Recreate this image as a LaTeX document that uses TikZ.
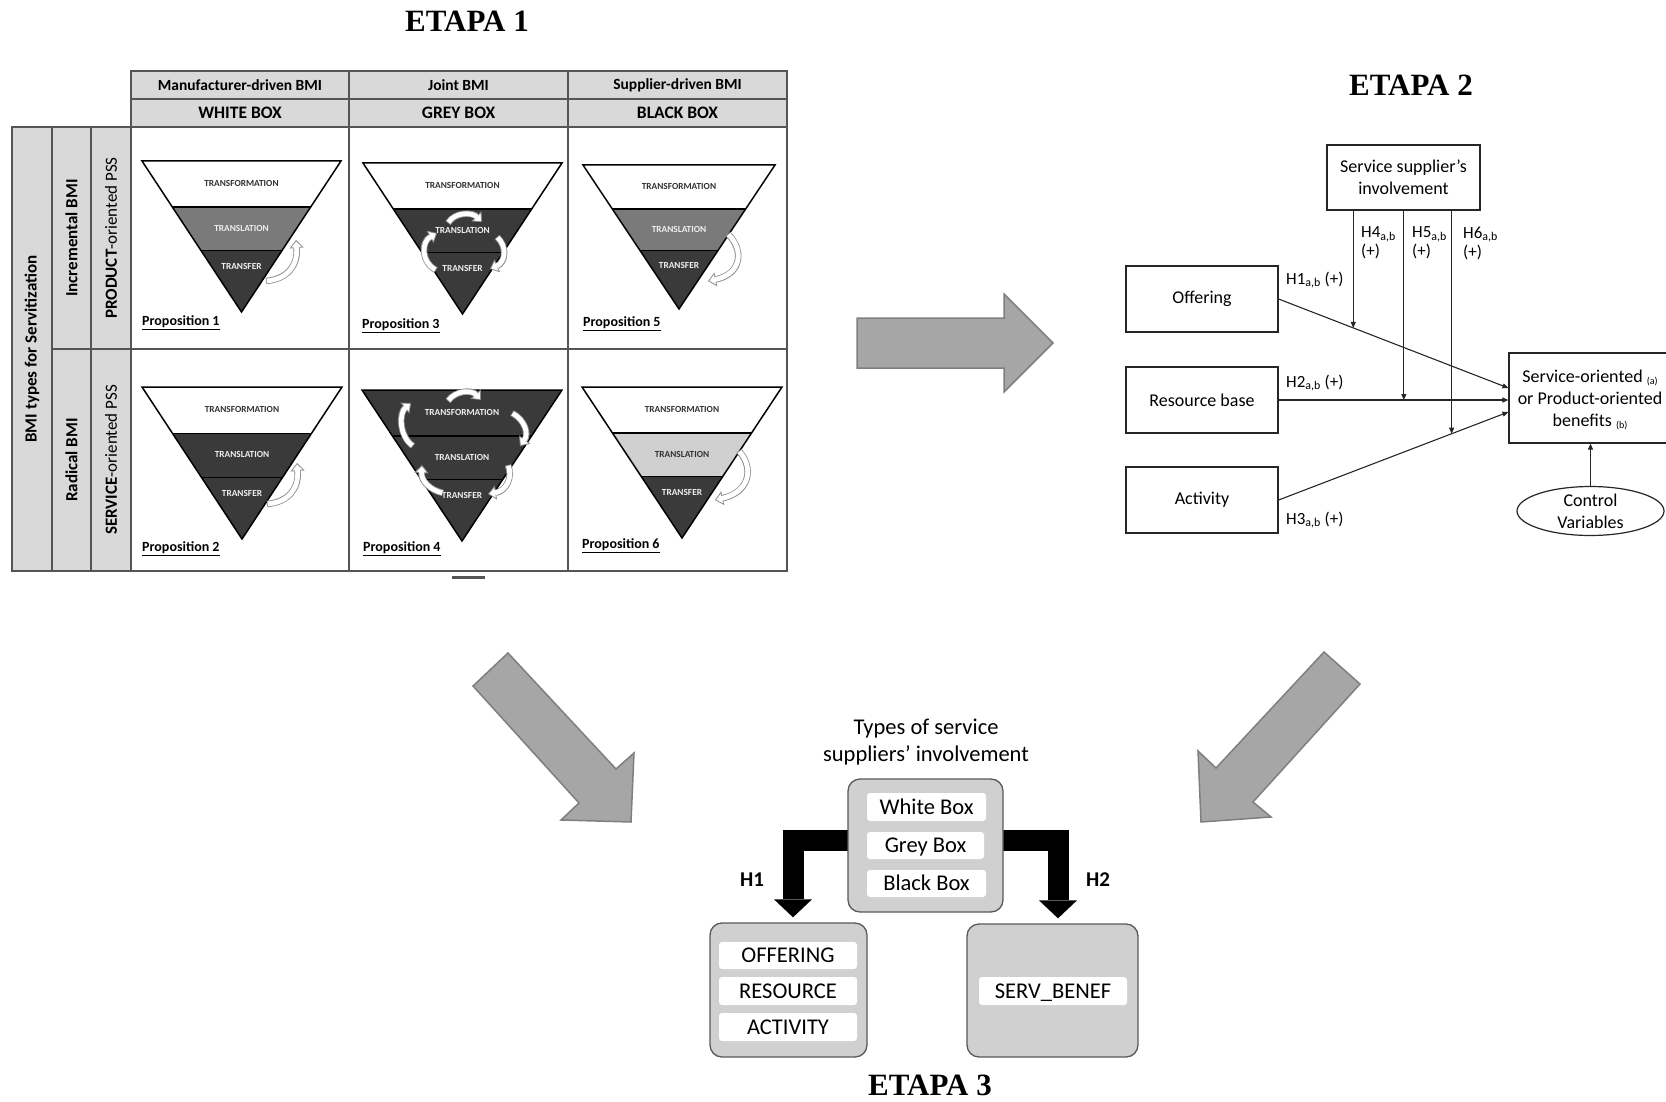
\documentclass[tikz,border=0pt]{standalone}
\usepackage{fontspec}
\setmainfont{Carlito}
\newfontfamily\stagefont{Liberation Serif}
\usetikzlibrary{arrows.meta,calc,shapes.geometric}

\definecolor{tblline}{HTML}{555555}
\definecolor{hdrgray}{HTML}{D9D9D9}
\definecolor{fmid}{HTML}{7A7A7A}
\definecolor{fdark}{HTML}{3A3A3A}
\definecolor{flight}{HTML}{D0D0D0}
\definecolor{ftxtdark}{HTML}{333333}
\definecolor{ftxtlight}{HTML}{EEEEEE}
\definecolor{swirlgray}{HTML}{8C8C8C}
\definecolor{bigfill}{HTML}{A6A6A6}
\definecolor{bigedge}{HTML}{7F7F7F}
\definecolor{grpfill}{HTML}{D0D0D0}
\definecolor{grpedge}{HTML}{595959}
\definecolor{lineink}{HTML}{262626}

\pgfdeclarelayer{back}
\pgfsetlayers{back,main}

\newcommand\sub[1]{{\fontsize{10}{10}\selectfont\raisebox{-2.5pt}{#1}}}

% inverted funnel with three bands: name, x, y, width, height,
% top fill, top text colour, middle fill, middle text colour
\newcommand\funnel[9]{%
  \pgfmathsetmacro\fLx{#2}%
  \pgfmathsetmacro\fRx{#2+#4}%
  \pgfmathsetmacro\fCx{#2+#4/2}%
  \pgfmathsetmacro\fAy{#3+#5}%
  \pgfmathsetmacro\fYa{#3+0.305*#5}%
  \pgfmathsetmacro\fYb{#3+0.595*#5}%
  \pgfmathsetmacro\fLa{#2+0.1525*#4}%
  \pgfmathsetmacro\fRa{#2+#4-0.1525*#4}%
  \pgfmathsetmacro\fLb{#2+0.2975*#4}%
  \pgfmathsetmacro\fRb{#2+#4-0.2975*#4}%
  \pgfmathsetmacro\fTa{#3+0.148*#5}%
  \pgfmathsetmacro\fTb{#3+0.445*#5}%
  \pgfmathsetmacro\fTc{#3+0.70*#5}%
  \fill[#6] (\fLx,#3) -- (\fRx,#3) -- (\fRa,\fYa) -- (\fLa,\fYa) -- cycle;
  \fill[#8] (\fLa,\fYa) -- (\fRa,\fYa) -- (\fRb,\fYb) -- (\fLb,\fYb) -- cycle;
  \fill[fdark] (\fLb,\fYb) -- (\fRb,\fYb) -- (\fCx,\fAy) -- cycle;
  \draw[line width=1.2pt] (\fLa,\fYa) -- (\fRa,\fYa) (\fLb,\fYb) -- (\fRb,\fYb);
  \draw[line width=1.5pt, line join=miter] (\fLx,#3) -- (\fRx,#3) -- (\fCx,\fAy) -- cycle;
  \node[flabel, text=#7] (#1-a) at (\fCx,\fTa) {TRANSFORMATION};
  \node[flabel, text=#9] (#1-b) at (\fCx,\fTb) {TRANSLATION};
  \node[flabel, text=ftxtlight] (#1-c) at (\fCx,\fTc) {TRANSFER};
}

% hollow curved arrow: start, control 1, control 2, end
\newcommand\swirl[4]{%
  \draw[swirlout] (#1) .. controls (#2) and (#3) .. (#4);
  \draw[swirlin] (#1) .. controls (#2) and (#3) .. (#4);
}

\tikzset{
  grid/.style={draw=tblline, line width=1.2pt, inner sep=0pt},
  hcellA/.style={grid, fill=hdrgray, font=\bfseries\fontsize{15.5}{18}\selectfont},
  hcellB/.style={grid, fill=hdrgray, font=\bfseries\fontsize{17.5}{20}\selectfont},
  scell/.style={grid, fill=hdrgray, rotate=90, font=\fontsize{17}{20}\selectfont},
  bcell/.style={grid, fill=white},
  flabel/.style={inner sep=0pt, font=\bfseries\fontsize{9.3}{10}\selectfont},
  prop/.style={inner sep=0pt, anchor=west, font=\bfseries\fontsize{14}{16}\selectfont},
  swirlout/.style={draw=swirlgray, line width=6.5pt,
    -{Triangle[width=14pt,length=8pt,fill=white,line width=0.8pt]}},
  swirlin/.style={draw=white, line width=4.8pt, shorten <=0.8pt, shorten >=7pt},
  stage/.style={inner sep=0pt, font=\stagefont\bfseries\fontsize{31}{33}\selectfont},
  bigarrow/.style={fill=bigfill, draw=bigedge, line width=1.5pt, line join=miter},
  sbox/.style={draw=lineink, line width=1.2pt, fill=white, inner sep=0pt,
    align=center, font=\fontsize{18}{22}\selectfont},
  link/.style={draw=lineink, line width=1.1pt, -{Triangle[length=6pt,width=5pt]}},
  hlab/.style={inner sep=0pt, anchor=west, align=left, font=\fontsize{17}{19}\selectfont},
  grp/.style={draw=grpedge, fill=grpfill, rounded corners=12pt, line width=1.3pt, inner sep=0pt},
  item/.style={fill=white, rounded corners=3pt, inner sep=0pt, text height=17pt, text depth=2.5pt,
    font=\fontsize{22.5}{26}\selectfont},
  elbow/.style={draw=black, line width=21pt, line join=miter,
    -{Triangle[width=38pt,length=18pt,line width=0pt]}},
}

\begin{document}
\begin{tikzpicture}[x=1pt,y=-1pt]
\useasboundingbox (0,0) rectangle (1666,1102);
\clip (0,0) rectangle (1666,1102);

% ---------------- stage headings ----------------
\node[stage] (et1) at (467,21.5) {ETAPA 1};
\node[stage] (et2) at (1411,85) {ETAPA 2};
\node[stage] (et3) at (930,1085) {ETAPA 3};

% ---------------- stage 1: BMI table ----------------
\node[hcellA, minimum width=218pt, minimum height=28pt] (h1a) at (240,85) {Manufacturer-driven BMI};
\node[hcellA, minimum width=219pt, minimum height=28pt] (h2a) at (458.5,85) {Joint BMI};
\node[hcellA, minimum width=219pt, minimum height=28pt] (h3a) at (677.5,85) {Supplier-driven BMI};
\node[hcellB, minimum width=218pt, minimum height=28pt] (h1b) at (240,113) {WHITE BOX};
\node[hcellB, minimum width=219pt, minimum height=28pt] (h2b) at (458.5,113) {GREY BOX};
\node[hcellB, minimum width=219pt, minimum height=28pt] (h3b) at (677.5,113) {BLACK BOX};

\node[scell, minimum width=444pt, minimum height=40pt, font=\bfseries\fontsize{17}{20}\selectfont] (s1) at (32,349) {BMI types for Servitization};
\node[scell, minimum width=222pt, minimum height=39pt, font=\bfseries\fontsize{17}{20}\selectfont] (s2a) at (71.5,238) {Incremental BMI};
\node[scell, minimum width=222pt, minimum height=39pt, font=\bfseries\fontsize{17}{20}\selectfont] (s2b) at (71.5,460) {Radical BMI};
\node[scell, minimum width=222pt, minimum height=40pt] (s3a) at (111,238) {\textbf{PRODUCT}-oriented PSS};
\node[scell, minimum width=222pt, minimum height=40pt] (s3b) at (111,460) {\textbf{SERVICE}-oriented PSS};

\node[bcell, minimum width=218pt, minimum height=222pt] (c11) at (240,238) {};
\node[bcell, minimum width=219pt, minimum height=222pt] (c12) at (458.5,238) {};
\node[bcell, minimum width=219pt, minimum height=222pt] (c13) at (677.5,238) {};
\node[bcell, minimum width=218pt, minimum height=222pt] (c21) at (240,460) {};
\node[bcell, minimum width=219pt, minimum height=222pt] (c22) at (458.5,460) {};
\node[bcell, minimum width=219pt, minimum height=222pt] (c23) at (677.5,460) {};
\draw[tblline, line width=3pt] (452,577) -- (485,577);

\funnel{fa}{142}{161}{199}{151}{white}{ftxtdark}{fmid}{ftxtlight}
\funnel{fc}{363}{163}{199}{151}{white}{ftxtdark}{fdark}{ftxtlight}
\funnel{fe}{583}{165}{192}{144}{white}{ftxtdark}{fmid}{ftxtlight}
\funnel{fb}{142}{387}{200}{152}{white}{ftxtdark}{fdark}{ftxtlight}
\funnel{fd}{362}{390}{200}{151}{fdark}{ftxtlight}{fdark}{ftxtlight}
\funnel{ff}{582}{387}{200}{151}{white}{ftxtdark}{flight}{ftxtdark}

\node[prop] (p1) at (142,323) {\underline{Proposition 1}};
\node[prop] (p3) at (362,326) {\underline{Proposition 3}};
\node[prop] (p5) at (583,324) {\underline{Proposition 5}};
\node[prop] (p2) at (142,549) {\underline{Proposition 2}};
\node[prop] (p4) at (363,549) {\underline{Proposition 4}};
\node[prop] (p6) at (582,546) {\underline{Proposition 6}};

% circulation arrows inside the funnels
\swirl{266,281}{288,279}{298,265}{296,240}
\swirl{267,504}{289,502}{299,488}{297,463}
\swirl{728,234}{744,250}{742,274}{708,281}
\swirl{739,451}{754,468}{750,492}{715,500}
\swirl{436,270}{421,262}{421,242}{437,233}
\swirl{448,223}{455,212}{472,212}{482,222}
\swirl{497,237}{507,246}{506,262}{490,269}
\swirl{448,401}{456,390}{472,390}{481,400}
\swirl{413,446}{399,436}{399,413}{411,403}
\swirl{512,413}{525,420}{529,434}{520,446}
\swirl{443,493}{430,490}{421,481}{422,465}
\swirl{508,465}{513,478}{506,491}{488,494}

% ---------------- big transition arrows ----------------
\draw[bigarrow] (857,318) -- (1004,318) -- (1004,294) -- (1053,343) -- (1004,392) -- (1004,368) -- (857,368) -- cycle;
\draw[bigarrow] (473,686) -- (508,653) -- (616,769) -- (634,753) -- (631,822) -- (561,820) -- (579,803) -- cycle;
\draw[bigarrow] (1324,652) -- (1360,684) -- (1253,802) -- (1271,817) -- (1201,822) -- (1198,751) -- (1216,768) -- cycle;

% ---------------- stage 2: research model ----------------
\node[sbox, minimum width=153pt, minimum height=65pt] (sup) at (1403.5,177.5) {Service supplier’s\\involvement};
\node[sbox, minimum width=152pt, minimum height=66pt] (off) at (1202,299) {Offering};
\node[sbox, minimum width=152pt, minimum height=66pt] (res) at (1202,400) {Resource base};
\node[sbox, minimum width=152pt, minimum height=66pt] (act) at (1202,500) {Activity};
\node[sbox, minimum width=171pt, minimum height=90pt] (out) at (1594.5,398) {};
\node[inner sep=0pt, align=center, font=\fontsize{18}{22}\selectfont] (outtxt) at (1590,400)
  {Service-oriented \sub{(a)}\\or Product-oriented\\benefits \sub{(b)}};
\node[sbox, ellipse, minimum width=147pt, minimum height=48pt] (ctrl) at (1590.5,511) {Control\\Variables};

\draw[link] (off.east) -- coordinate[pos=0.325] (m1) ([yshift=10pt]out.west);
\draw[link] (res.east) -- coordinate[pos=0.545] (m2) ([yshift=-2pt]out.west);
\draw[link] (act.east) -- coordinate[pos=0.753] (m3) ([yshift=-14pt]out.west);
\draw[link] (m1 |- sup.south) -- (m1);
\draw[link] (m2 |- sup.south) -- (m2);
\draw[link] (m3 |- sup.south) -- (m3);
\draw[link] (ctrl.north) -- (ctrl.north |- out.south);

\node[hlab] (lh1) at (1286,280) {H1\textsubscript{a,b} (+)};
\node[hlab] (lh2) at (1286,383) {H2\textsubscript{a,b} (+)};
\node[hlab] (lh3) at (1286,520) {H3\textsubscript{a,b} (+)};
\node[hlab] (lh4) at (1361,243) {H4\textsubscript{a,b}\\(+)};
\node[hlab] (lh5) at (1412,243) {H5\textsubscript{a,b}\\(+)};
\node[hlab] (lh6) at (1463,243) {H6\textsubscript{a,b}\\(+)};

% ---------------- stage 3: analysis scheme ----------------
\node[inner sep=0pt, align=center, font=\fontsize{22.5}{27}\selectfont] (ttl) at (926,742)
  {Types of service\\suppliers’ involvement};
\node[grp, minimum width=155pt, minimum height=133pt] (types) at (925.5,845.5) {};
\node[item, minimum width=119pt, minimum height=28pt] (wb) at (926.5,807) {White Box};
\node[item, minimum width=117pt, minimum height=27pt] (gb) at (925.5,845.5) {Grey Box};
\node[item, minimum width=119pt, minimum height=27pt] (bb) at (926.5,883.5) {Black Box};

\node[grp, minimum width=157pt, minimum height=134pt] (lset) at (788.5,990) {};
\node[item, minimum width=138pt, minimum height=27pt] (io) at (788,955.5) {OFFERING};
\node[item, minimum width=138pt, minimum height=28pt] (ir) at (788,991) {RESOURCE};
\node[item, minimum width=138pt, minimum height=28pt] (ia) at (788,1027) {ACTIVITY};

\node[grp, minimum width=171pt, minimum height=133pt] (rset) at (1052.5,990.5) {};
\node[item, minimum width=148pt, minimum height=28pt] (sb) at (1053,991) {SERV\_BENEF};

\begin{pgfonlayer}{back}
\draw[elbow] ([yshift=5.5pt]types.center) -| ([xshift=4.5pt,yshift=5pt]lset.north);
\draw[elbow] ([yshift=5.5pt]types.center) -| ([xshift=5.5pt,yshift=5pt]rset.north);
\end{pgfonlayer}

\node[inner sep=0pt, font=\bfseries\fontsize{21}{24}\selectfont] (lab1) at (752,880) {H1};
\node[inner sep=0pt, font=\bfseries\fontsize{21}{24}\selectfont] (lab2) at (1098,880) {H2};

\end{tikzpicture}
\end{document}
